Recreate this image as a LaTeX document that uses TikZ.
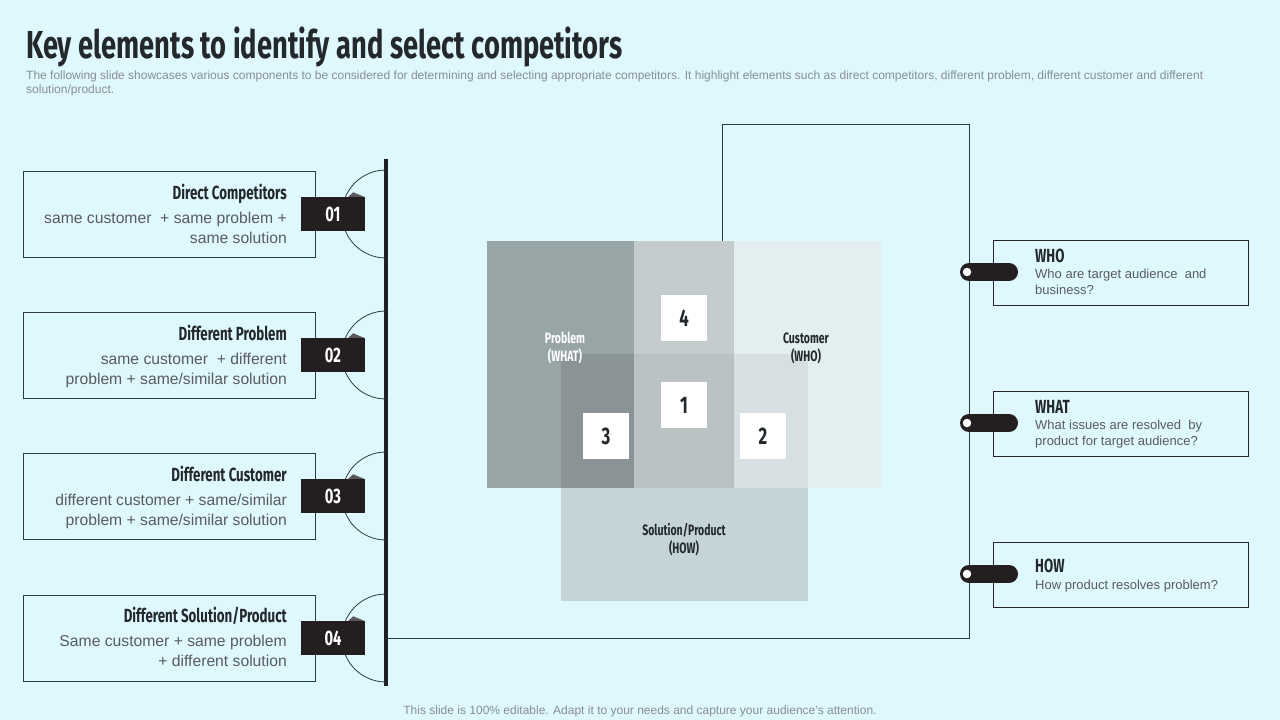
\documentclass[tikz,border=0pt]{standalone}
\usepackage{fontspec}
\setmainfont{Liberation Sans}
\newfontfamily\headfont[FakeStretch=0.70]{Fira Sans}
\usepackage{xcolor}

\definecolor{bgcyan}{RGB}{223,248,253}
\definecolor{inkdark}{RGB}{34,40,44}
\definecolor{bodygray}{RGB}{88,92,96}
\definecolor{subgray}{RGB}{135,142,148}
\definecolor{boxline}{RGB}{46,58,64}
\definecolor{tabblack}{RGB}{35,31,32}
\definecolor{ponly}{RGB}{152,165,167}
\definecolor{conly}{RGB}{227,238,240}
\definecolor{sonly}{RGB}{197,213,215}
\definecolor{pc}{RGB}{196,203,204}
\definecolor{ps}{RGB}{138,148,150}
\definecolor{cs}{RGB}{214,223,226}
\definecolor{pcs}{RGB}{186,193,195}

\begin{document}
\begin{tikzpicture}[x=1pt,y=1pt,
  leftbox/.style={draw=boxline,line width=1pt,minimum width=292pt,minimum height=86pt,inner sep=0pt},
  rightbox/.style={draw=black!85,line width=1pt,fill=bgcyan,minimum width=255pt,minimum height=65pt,inner sep=0pt},
  numtab/.style={fill=tabblack,text=white,minimum width=64pt,minimum height=34pt,inner sep=0pt,
    font=\headfont\bfseries\fontsize{21}{21}\selectfont},
  boxtitle/.style={anchor=base east,inner sep=0pt,text=inkdark,font=\headfont\bfseries\fontsize{19}{20}\selectfont},
  boxtext/.style={anchor=base east,align=right,inner sep=0pt,text=bodygray,font=\fontsize{15.7}{19.5}\selectfont},
  sidetitle/.style={anchor=base west,inner sep=0pt,text=inkdark,font=\headfont\bfseries\fontsize{19}{20}\selectfont},
  sidetext/.style={anchor=base west,align=left,inner sep=0pt,text=bodygray,font=\fontsize{13}{16}\selectfont},
  numsq/.style={fill=white,minimum size=46pt,inner sep=0pt,text=inkdark,
    font=\headfont\bfseries\fontsize{24}{24}\selectfont},
  venntext/.style={align=center,inner sep=0pt,font=\headfont\bfseries\fontsize{15}{18}\selectfont},
  pill/.style={line width=18pt,line cap=round,draw=tabblack},
  hole/.style={fill=white,draw=tabblack,line width=2pt}]

  \useasboundingbox (0,0) rectangle (1280,-720);
  \fill[bgcyan] (0,0) rectangle (1280,-720);

  \node[anchor=base west,inner sep=0pt,text=inkdark,font=\headfont\bfseries\fontsize{39}{40}\selectfont]
    (title) at (26,-58) {Key elements to identify and select competitors};
  \node[anchor=base west,align=left,inner sep=0pt,text=subgray,font=\fontsize{12}{14}\selectfont]
    (sub) at (26,-93) {The following slide showcases various components to be considered for determining and selecting appropriate competitors. It highlight elements such as direct competitors, different problem, different customer and different\\solution/product.};

  % left side
  \coordinate (bartop) at (386,-159);
  \coordinate (barbot) at (386,-686);
  \draw[line width=4pt,tabblack] (bartop) -- (barbot);

  \draw[boxline,line width=0.8pt] (386,-170) arc[start angle=90,end angle=270,radius=44pt];
  \draw[boxline,line width=0.8pt] (386,-311) arc[start angle=90,end angle=270,radius=44pt];
  \draw[boxline,line width=0.8pt] (386,-452) arc[start angle=90,end angle=270,radius=44pt];
  \draw[boxline,line width=0.8pt] (386,-594) arc[start angle=90,end angle=270,radius=44pt];

  \node[leftbox] (dc) at (169,-214) {};
  \node[leftbox] (dp) at (169,-355) {};
  \node[leftbox] (dcu) at (169,-496) {};
  \node[leftbox] (ds) at (169,-638) {};

  \node[numtab] (t1) at (333,-214) {01};
  \node[numtab] (t2) at (333,-355) {02};
  \node[numtab] (t3) at (333,-496) {03};
  \node[numtab] (t4) at (333,-638) {04};
  \fill[gray!70!black] ([xshift=-17pt]t1.north east) -- ([xshift=-12pt,yshift=4.5pt]t1.north east) -- ([xshift=-1pt]t1.north east) -- cycle;
  \fill[gray!70!black] ([xshift=-17pt]t2.north east) -- ([xshift=-12pt,yshift=4.5pt]t2.north east) -- ([xshift=-1pt]t2.north east) -- cycle;
  \fill[gray!70!black] ([xshift=-17pt]t3.north east) -- ([xshift=-12pt,yshift=4.5pt]t3.north east) -- ([xshift=-1pt]t3.north east) -- cycle;
  \fill[gray!70!black] ([xshift=-17pt]t4.north east) -- ([xshift=-12pt,yshift=4.5pt]t4.north east) -- ([xshift=-1pt]t4.north east) -- cycle;

  \node[boxtitle] at (287,-199) {Direct Competitors};
  \node[boxtext] at (287,-243) {same customer \ + same problem +\\same solution};
  \node[boxtitle] at (287,-340) {Different Problem};
  \node[boxtext] at (287,-384) {same customer \ + different\\problem + same/similar solution};
  \node[boxtitle] at (287,-481) {Different Customer};
  \node[boxtext] at (287,-525) {different customer + same/similar\\problem + same/similar solution};
  \node[boxtitle] at (287,-622) {Different Solution/Product};
  \node[boxtext] at (287,-666) {Same customer + same problem\\+ different solution};

  % venn squares
  \fill[ponly] (487,-241) rectangle (734,-488);
  \fill[conly] (734,-241) rectangle (881,-488);
  \fill[pc] (634,-241) rectangle (734,-488);
  \fill[sonly] (561,-488) rectangle (808,-601);
  \fill[ps] (561,-354) rectangle (634,-488);
  \fill[pcs] (634,-354) rectangle (734,-488);
  \fill[cs] (734,-354) rectangle (808,-488);

  \node[venntext,text=white] (prob) at (565,-348) {Problem\\(WHAT)};
  \node[venntext,text=inkdark] (cust) at (806,-348) {Customer\\(WHO)};
  \node[venntext,text=inkdark] (sol) at (684,-540) {Solution/Product\\(HOW)};

  \node[numsq] (n4) at (684,-318) {4};
  \node[numsq] (n1) at (684,-405) {1};
  \node[numsq] (n3) at (606,-436) {3};
  \node[numsq] (n2) at (763,-436) {2};

  % connector frame
  \coordinate (barjoin) at (386,-638);
  \coordinate (vtop) at (722,-241);
  \draw[boxline,line width=1pt] (barjoin) -- (969.5,-638) -- (969.5,-124) -- (722,-124) -- (vtop);

  % right side
  \node[rightbox] (who) at (1120.5,-272.5) {};
  \node[rightbox] (what) at (1120.5,-423.5) {};
  \node[rightbox] (how) at (1120.5,-574.5) {};

  \draw[pill] (969,-272) -- (1009,-272);
  \draw[pill] (969,-423) -- (1009,-423);
  \draw[pill] (969,-574) -- (1009,-574);
  \node[hole,circle,minimum size=11pt,inner sep=0pt] at (967,-272) {};
  \node[hole,circle,minimum size=11pt,inner sep=0pt] at (967,-423) {};
  \node[hole,circle,minimum size=11pt,inner sep=0pt] at (967,-574) {};

  \node[sidetitle] at (1035,-262) {WHO};
  \node[sidetext] at (1035,-294) {Who are target audience \ and\\business?};
  \node[sidetitle] at (1035,-413) {WHAT};
  \node[sidetext] at (1035,-445) {What issues are resolved \ by\\product for target audience?};
  \node[sidetitle] at (1035,-572) {HOW};
  \node[sidetext] at (1035,-589) {How product resolves problem?};

  \node[text=subgray,inner sep=0pt,font=\fontsize{12}{13}\selectfont] (foot) at (640,-711)
    {This slide is 100\% editable. Adapt it to your needs and capture your audience's attention.};
\end{tikzpicture}
\end{document}
